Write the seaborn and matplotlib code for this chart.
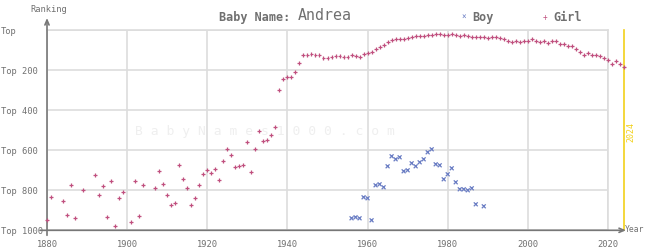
import matplotlib
matplotlib.use("Agg")
import matplotlib.pyplot as plt
import seaborn as sns
import pandas as pd

# ---- data ----
girl_years = [1880, 1881, 1884, 1885, 1886, 1887, 1889, 1892, 1893, 1894, 1895, 1896, 1897, 1898, 1899,
              1901, 1902, 1903, 1904, 1907, 1908, 1909, 1910, 1911, 1912, 1913, 1914, 1915, 1916, 1917,
              1918, 1919, 1920, 1921, 1922, 1923, 1924, 1925, 1926, 1927, 1928, 1929, 1930, 1931, 1932,
              1933, 1934, 1935, 1936, 1937, 1938, 1939, 1940, 1941, 1942, 1943, 1944, 1945, 1946, 1947,
              1948, 1949, 1950, 1951, 1952, 1953, 1954, 1955, 1956, 1957, 1958, 1959, 1960, 1961, 1962,
              1963, 1964, 1965, 1966, 1967, 1968, 1969, 1970, 1971, 1972, 1973, 1974, 1975, 1976, 1977,
              1978, 1979, 1980, 1981, 1982, 1983, 1984, 1985, 1986, 1987, 1988, 1989, 1990, 1991, 1992,
              1993, 1994, 1995, 1996, 1997, 1998, 1999, 2000, 2001, 2002, 2003, 2004, 2005, 2006, 2007,
              2008, 2009, 2010, 2011, 2012, 2013, 2014, 2015, 2016, 2017, 2018, 2019, 2020, 2021, 2022,
              2023, 2024]
girl_ranks = [948, 835, 855, 925, 775, 940, 800, 725, 825, 780, 935, 755, 980, 840, 810,
              960, 755, 930, 775, 790, 705, 770, 825, 875, 865, 675, 745, 790, 875, 840,
              775, 720, 700, 715, 695, 750, 655, 595, 625, 685, 680, 675, 560, 710, 595,
              505, 555, 550, 525, 485, 300, 245, 235, 235, 210, 165, 125, 125, 120, 125,
              125, 140, 140, 135, 130, 130, 135, 135, 125, 130, 135, 120, 115, 110, 95,
              85, 75, 60, 50, 45, 45, 45, 40, 35, 30, 30, 30, 25, 25, 20,
              20, 25, 25, 20, 25, 30, 25, 30, 35, 35, 35, 35, 40, 35, 35,
              40, 45, 55, 60, 55, 60, 55, 55, 45, 55, 60, 55, 65, 55, 55,
              70, 70, 80, 80, 95, 110, 125, 115, 125, 125, 130, 140, 150, 170, 155,
              170, 185]

boy_years = [1956, 1957, 1958, 1959, 1960, 1961, 1962, 1963, 1964, 1965, 1966, 1967, 1968, 1969, 1970,
             1971, 1972, 1973, 1974, 1975, 1976, 1977, 1978, 1979, 1980, 1981, 1982, 1983, 1984, 1985,
             1986, 1987, 1989]
boy_ranks = [940, 935, 940, 835, 840, 950, 775, 770, 785, 680, 630, 645, 635, 705, 700,
             665, 680, 660, 645, 610, 595, 670, 675, 745, 720, 690, 760, 795, 795, 800,
             790, 870, 880]

x_ticks = [1880, 1900, 1920, 1940, 1960, 1980, 2000, 2020]
y_ticks = [0, 200, 400, 600, 800, 1000]
y_labels = ["Top", "Top 200", "Top 400", "Top 600", "Top 800", "Top 1000"]

title_prefix = "Baby Name:"
name = "Andrea"
current_year = 2024

df = pd.DataFrame({
    "year": girl_years + boy_years,
    "rank": girl_ranks + boy_ranks,
    "sex": ["Girl"] * len(girl_years) + ["Boy"] * len(boy_years),
})

GIRL = "#c0507f"
BOY = "#6b7ec4"
TXT = "#707070"
AX = "#777777"
GRID = "#dddddd"
YEL = "#f2d11a"
MONO = "DejaVu Sans Mono"

W, H = 645, 250
fig = plt.figure(figsize=(W / 100, H / 100), dpi=100)
x0, x1, ytop, ybot = 47, 608, 30.3, 230.3
ax = fig.add_axes([x0 / W, 1 - ybot / H, (x1 - x0) / W, (ybot - ytop) / H])
ax.set_facecolor("white")

sns.scatterplot(data=df, x="year", y="rank", hue="sex", style="sex",
                palette={"Girl": GIRL, "Boy": BOY},
                markers={"Girl": "+", "Boy": "x"},
                s=8, linewidth=0.9, legend=False, ax=ax, zorder=4)
for coll in ax.collections:
    coll.set_clip_on(False)

ax.set_xlim(1880, 2020)
ax.set_ylim(1000, 0)
ax.set_xticks(x_ticks)
ax.set_yticks(y_ticks)
ax.set_yticklabels(y_labels)
ax.set_xlabel("")
ax.set_ylabel("")
ax.grid(True, color=GRID, linewidth=1.2, zorder=0)
ax.set_axisbelow(True)
for side in ["top", "right"]:
    ax.spines[side].set_color(GRID)
    ax.spines[side].set_linewidth(1.2)
for side in ["left", "bottom"]:
    ax.spines[side].set_visible(False)

ax.tick_params(axis="both", length=0, colors=TXT)
ax.tick_params(axis="x", pad=7)
for lab in ax.get_xticklabels():
    lab.set_fontfamily(MONO)
    lab.set_fontsize(6.3)
    lab.set_color(TXT)
ax.tick_params(axis="y", pad=(x0 - 1) * 0.72)
for lab in ax.get_yticklabels():
    lab.set_fontfamily(MONO)
    lab.set_fontsize(6.3)
    lab.set_color(TXT)
    lab.set_horizontalalignment("left")

# axis lines with arrows
aw = x1 - x0
ah = ybot - ytop
ax.annotate("", xy=((626 - x0) / aw, 0), xytext=(-7 / aw, 0), xycoords="axes fraction",
            arrowprops=dict(arrowstyle="->,head_length=0.35,head_width=0.15", color=AX, lw=1.2,
                            shrinkA=0, shrinkB=0), annotation_clip=False)
ax.annotate("", xy=(0, (ybot - 18) / ah), xytext=(0, -5 / ah), xycoords="axes fraction",
            arrowprops=dict(arrowstyle="->,head_length=0.35,head_width=0.15", color=AX, lw=1.2,
                            shrinkA=0, shrinkB=0), annotation_clip=False)

# current year marker
ax.axvline(current_year, color=YEL, linewidth=1.2, clip_on=False, zorder=1)
fig.text(631 / W, 1 - 132 / H, str(current_year), rotation=90, color=YEL, fontsize=6,
         family=MONO, ha="center", va="center")

# labels
fig.text(644 / W, 1 - 230 / H, "Year", color=TXT, fontsize=5.8, family=MONO, ha="right", va="center")
fig.text(49 / W, 1 - 9 / H, "Ranking", color=TXT, fontsize=6.3, family=MONO, ha="center", va="center")

# watermark
fig.text(265 / W, 1 - 132 / H, " ".join("BabyNames1000.com"), color="#efefef", fontsize=9.4,
         family=MONO, ha="center", va="center", zorder=0)

# title
fig.text(290 / W, 1 - 17 / H, title_prefix, color=TXT, fontsize=8.5, family=MONO,
         fontweight="bold", ha="right", va="center")
fig.text(298 / W, 1 - 16 / H, name, color=TXT, fontsize=10.8, family=MONO, ha="left", va="center")

# legend
fig.text(464 / W, 1 - 17 / H, "\u00d7", color=BOY, fontsize=5.5, family=MONO, ha="center", va="center")
fig.text(472 / W, 1 - 17 / H, "Boy", color=TXT, fontsize=8.5, family=MONO, fontweight="bold",
         ha="left", va="center")
fig.text(545 / W, 1 - 17 / H, "+", color=GIRL, fontsize=5.5, family=MONO, ha="center", va="center")
fig.text(553 / W, 1 - 17 / H, "Girl", color=TXT, fontsize=8.5, family=MONO, fontweight="bold",
         ha="left", va="center")

fig.savefig("out.png", dpi=100)
